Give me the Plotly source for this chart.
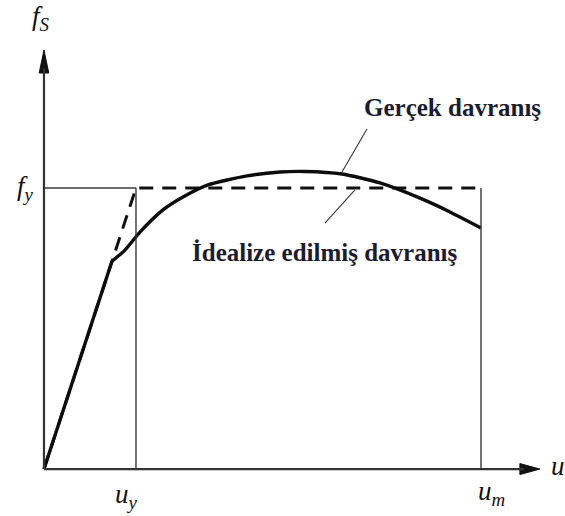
import plotly.graph_objects as go

# Force–displacement relationship (normalised: u_y = 1, f_y = 1)
u_actual = [0.0, 0.740, 0.880, 1.043, 1.293, 1.511, 1.783, 2.207, 2.565, 2.837, 3.239, 3.652, 4.087, 4.413, 4.750]
f_actual = [0.0, 0.740, 0.779, 0.843, 0.922, 0.968, 1.011, 1.043, 1.057, 1.059, 1.050, 1.018, 0.964, 0.915, 0.858]

u_y = 1.0
u_m = 4.75
f_y = 1.0

# Idealised elasto-plastic envelope
u_ideal = [0.0, u_y, u_m]
f_ideal = [0.0, f_y, f_y]

# Axis extents (arrow tips)
u_axis_end = 5.39
f_axis_end = 1.491

labels_curve = ["Gerçek davranış", "İdealize edilmiş davranış"]

W, H = 565, 516
x_range = [-0.478, 5.663]
y_range = [-0.167, 1.669]
px_x = W / (x_range[1] - x_range[0])
px_y = H / (y_range[1] - y_range[0])

fig = go.Figure()

thin = dict(color="#3a3a3a", width=1.4)
axis_line = dict(color="#333333", width=2.2)

# Guide lines at f_y, u_y and u_m
fig.add_shape(type="line", x0=0, y0=f_y, x1=u_y, y1=f_y, line=thin)
fig.add_shape(type="line", x0=u_y, y0=0, x1=u_y, y1=f_y, line=thin)
fig.add_shape(type="line", x0=u_m, y0=0, x1=u_m, y1=f_y, line=thin)

# Axes
ah_len_x, ah_half_x = 20 / px_x, 5.5 / px_y
ah_len_y, ah_half_y = 23 / px_y, 4.8 / px_x
fig.add_shape(type="line", x0=0, y0=0, x1=u_axis_end - ah_len_x * 0.8, y1=0, line=axis_line)
fig.add_shape(type="line", x0=0, y0=0, x1=0, y1=f_axis_end - ah_len_y * 0.8, line=axis_line)

# Arrowheads
fig.add_trace(go.Scatter(
    x=[u_axis_end, u_axis_end - ah_len_x, u_axis_end - ah_len_x, u_axis_end],
    y=[0, ah_half_x, -ah_half_x, 0],
    fill="toself", fillcolor="#111111", line=dict(color="#111111", width=1),
    mode="lines", hoverinfo="skip", showlegend=False))
fig.add_trace(go.Scatter(
    x=[0, ah_half_y, -ah_half_y, 0],
    y=[f_axis_end, f_axis_end - ah_len_y, f_axis_end - ah_len_y, f_axis_end],
    fill="toself", fillcolor="#111111", line=dict(color="#111111", width=1),
    mode="lines", hoverinfo="skip", showlegend=False))

# Idealised behaviour (dashed)
fig.add_trace(go.Scatter(
    x=u_ideal, y=f_ideal, mode="lines",
    line=dict(color="#111111", width=3, dash="14px,9px"),
    hoverinfo="skip", showlegend=False))

# Actual behaviour (solid): straight elastic branch, then smooth inelastic branch
solid = dict(color="#0d0d0d", width=3.4)
fig.add_trace(go.Scatter(
    x=u_actual[:2], y=f_actual[:2], mode="lines",
    line=solid, hoverinfo="skip", showlegend=False))
fig.add_trace(go.Scatter(
    x=u_actual[1:], y=f_actual[1:], mode="lines",
    line=dict(solid, shape="spline", smoothing=0.6),
    hoverinfo="skip", showlegend=False))

# Leader lines to the curve labels
leader = dict(color="#333333", width=1.1)
fig.add_shape(type="line", x0=3.511, y0=1.210, x1=3.239, y1=1.057, line=leader)
fig.add_shape(type="line", x0=3.380, y0=0.993, x1=3.054, y1=0.875, line=leader)

serif_it = dict(family="Liberation Serif", size=27, color="#111111")
lbl_font = dict(family="Liberation Serif", size=25, color="#1c1c30")

annotations = [
    dict(x=3.457, y=1.288, text="<b>" + labels_curve[0] + "</b>", xanchor="left", yanchor="middle", font=lbl_font),
    dict(x=1.587, y=0.769, text="<b>" + labels_curve[1] + "</b>", xanchor="left", yanchor="middle", font=lbl_font),
    dict(x=-0.03, y=1.605, text="<i>f</i><sub><i>S</i></sub>", xanchor="center", yanchor="middle", font=serif_it),
    dict(x=-0.196, y=f_y, text="<i>f</i><sub><i>y</i></sub>", xanchor="center", yanchor="middle", font=serif_it),
    dict(x=0.902, y=-0.095, text="<i>u</i><sub><i>y</i></sub>", xanchor="center", yanchor="middle", font=serif_it),
    dict(x=4.86, y=-0.085, text="<i>u</i><sub><i>m</i></sub>", xanchor="center", yanchor="middle", font=serif_it),
    dict(x=5.49, y=0.01, text="<i>u</i>", xanchor="left", yanchor="middle", font=serif_it),
]
for a in annotations:
    a.update(xref="x", yref="y", showarrow=False)

fig.update_layout(
    width=W, height=H,
    margin=dict(l=0, r=0, t=0, b=0),
    paper_bgcolor="white", plot_bgcolor="white",
    xaxis=dict(range=x_range, visible=False, fixedrange=True),
    yaxis=dict(range=y_range, visible=False, fixedrange=True),
    annotations=annotations,
    showlegend=False,
)

fig.write_html("out.html")
